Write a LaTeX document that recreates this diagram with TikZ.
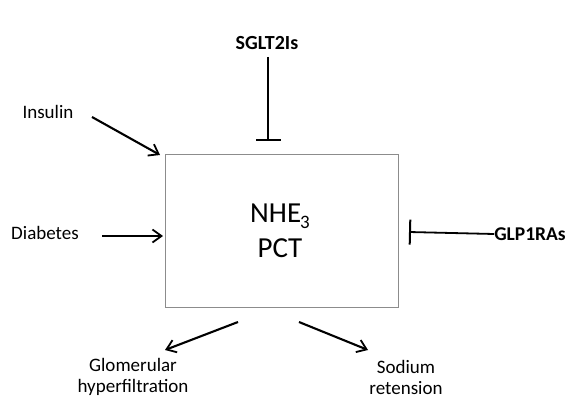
\documentclass[tikz,border=0pt]{standalone}
\usepackage{fontspec}
\setmainfont{Carlito}
\usepackage{tikz}
\usetikzlibrary{arrows.meta}

\begin{document}
\begin{tikzpicture}[x=1pt,y=-1pt,
  lbl/.style={font=\fontsize{19}{21}\selectfont,align=center,inner sep=0pt},
  blbl/.style={lbl,font=\fontsize{20}{22}\selectfont\bfseries},
  act/.style={line width=2.1pt,-{Straight Barb[length=9pt,width=13pt,line width=1.8pt]}},
  inh/.style={line width=1.8pt,-{Bar[width=25pt,line width=2pt]}}]
\useasboundingbox (0,0) rectangle (580,409);
% central box
\node[draw=black!45,line width=0.8pt,minimum width=233pt,minimum height=153pt,inner sep=0pt]
  (pct) at (281.5,230.5) {};
\node[font=\fontsize{29}{35}\selectfont,align=center] (pcttxt) at (280,231)
  {NHE\kern-1pt\raisebox{-6pt}{\fontsize{19}{19}\selectfont 3}\\PCT};
% inputs
\node[lbl] (ins) at (48,112) {Insulin};
\node[lbl] (dia) at (45,233) {Diabetes};
\node[blbl] (sglt) at (267,43) {SGLT2Is};
\node[blbl,font=\fontsize{19.5}{22}\selectfont\bfseries] (glp) at (530,234) {GLP1RAs};
% outputs
\node[lbl] (glom) at (133,377) {Glomerular\\hyperfiltration};
\node[lbl] (sod) at (406,377) {Sodium\\retension};
\coordinate (insA) at (92,117);
\coordinate (insB) at (160,155);
\coordinate (diaA) at (102,236);
\coordinate (diaB) at (163,236);
\coordinate (sgA) at (268,57);
\coordinate (sgB) at (268,141);
\coordinate (glA) at (glp.west);
\coordinate (glB) at (409,232);
\coordinate (glomA) at (238,322);
\coordinate (glomB) at (165,350);
\coordinate (sodA) at (299,322);
\coordinate (sodB) at (368,350);
\draw[act] (insA) -- (insB);
\draw[act] (diaA) -- (diaB);
\draw[inh] (sgA) -- (sgB);
\draw[inh] (glA) -- (glB);
\draw[act] (glomA) -- (glomB);
\draw[act] (sodA) -- (sodB);
\end{tikzpicture}
\end{document}
